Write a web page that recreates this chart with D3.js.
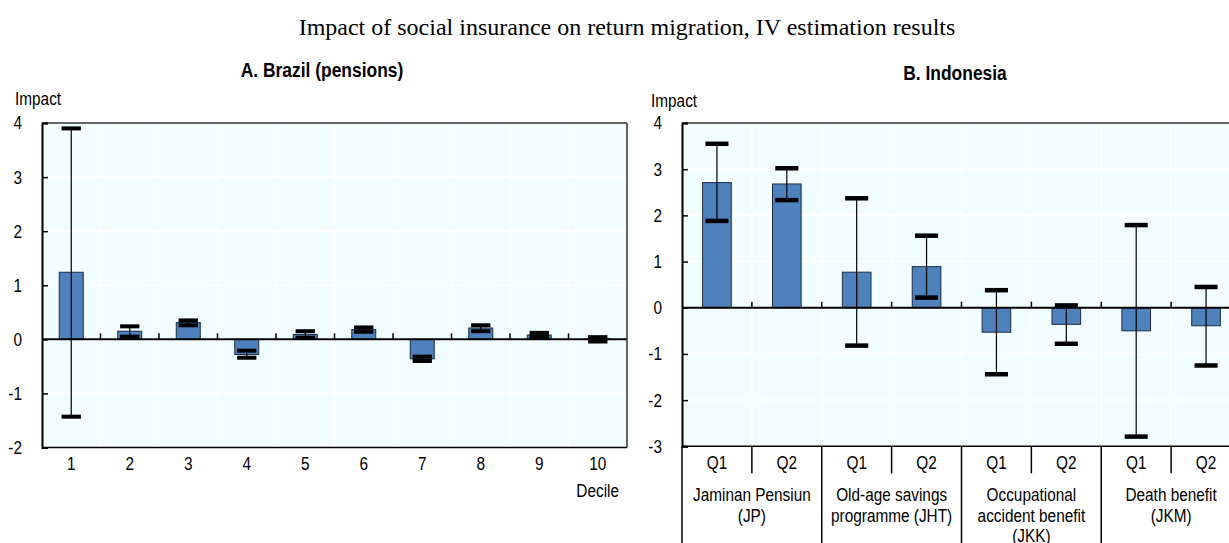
<!DOCTYPE html>
<html>
<head>
<meta charset="utf-8">
<script src="https://cdn.jsdelivr.net/npm/d3@7"></script>
<style>
    body { margin: 0; background: #fff; }
    svg text { font-family: "Liberation Sans", Arial, sans-serif; fill: #000; }
</style>
</head>
<body>
<svg id="chart" width="1229" height="543"></svg>
<script>

// Panel A: Brazil, by decile
var deciles = ["1", "2", "3", "4", "5", "6", "7", "8", "9", "10"];
var brazilImpact = [1.24, 0.15, 0.31, -0.28, 0.09, 0.18, -0.36, 0.21, 0.08, 0.01];
var brazilUpper  = [3.90, 0.24, 0.35, -0.21, 0.15, 0.22, -0.32, 0.26, 0.12, 0.04];
var brazilLower  = [-1.43, 0.05, 0.26, -0.34, 0.03, 0.14, -0.40, 0.15, 0.05, -0.04];
var brazilTicks  = [-2, -1, 0, 1, 2, 3, 4];

// Panel B: Indonesia, by programme and quintile
var quintiles = ["Q1", "Q2", "Q1", "Q2", "Q1", "Q2", "Q1", "Q2"];
var programmes = [
    ["Jaminan Pensiun", "(JP)"],
    ["Old-age savings", "programme (JHT)"],
    ["Occupational", "accident benefit", "(JKK)"],
    ["Death benefit", "(JKM)"]
];
var idnImpact = [2.71, 2.68, 0.77, 0.89, -0.53, -0.36, -0.50, -0.39];
var idnUpper  = [3.55, 3.02, 2.37, 1.56, 0.38, 0.05, 1.79, 0.45];
var idnLower  = [1.88, 2.33, -0.82, 0.22, -1.44, -0.78, -2.79, -1.25];
var idnTicks  = [-3, -2, -1, 0, 1, 2, 3, 4];

var draw = {

    svg: d3.select("#chart"),
    fs: "18.5px",
    narrow: 0.83,   // no Arial Narrow installed, so squeeze Liberation Sans

    index: function () {
        draw.svg.append("text")
            .attr("x", 627).attr("y", 35)
            .attr("text-anchor", "middle")
            .style("font-family", "'Liberation Serif', 'Times New Roman', serif")
            .style("font-size", "24px")
            .text("Impact of social insurance on return migration, IV estimation results");

        draw.panel({
            title: "A. Brazil (pensions)", titleX: 322, titleY: 77,
            left: 42, right: 627, top: 123, bottom: 447.5,
            domain: [-2, 4], ticks: brazilTicks,
            cats: deciles, values: brazilImpact, upper: brazilUpper, lower: brazilLower,
            capThick: 4, impactX: 15, impactY: 105
        });
        draw.label(draw.svg, 619, 497, "Decile", "end");

        var p = draw.panel({
            title: "B. Indonesia", titleX: 955, titleY: 80,
            left: 682, right: 1241, top: 123, bottom: 446.3,
            domain: [-3, 4], ticks: idnTicks,
            cats: d3.range(quintiles.length).map(String), labels: quintiles,
            values: idnImpact, upper: idnUpper, lower: idnLower,
            capThick: 4.5, impactX: 651, impactY: 107
        });
        draw.groups(p);
    },

    label: function (g, x, y, t, anchor) {
        return g.append("text")
            .attr("transform", "translate(" + x + "," + y + ") scale(" + draw.narrow + ",1)")
            .attr("text-anchor", anchor || "start")
            .style("font-size", draw.fs)
            .text(t);
    },

    panel: function (c) {
        var g = draw.svg.append("g");
        var x = d3.scaleBand().domain(c.cats).range([c.left, c.right]);
        var y = d3.scaleLinear().domain(c.domain).range([c.bottom, c.top]);
        var bw = x.bandwidth();

        g.append("rect")
            .attr("x", c.left).attr("y", c.top)
            .attr("width", c.right - c.left).attr("height", c.bottom - c.top)
            .attr("fill", "#f1fdff");

        // white grid
        g.selectAll(".hgrid").data(c.ticks).enter().append("line")
            .attr("x1", c.left).attr("x2", c.right)
            .attr("y1", function (d) { return y(d); })
            .attr("y2", function (d) { return y(d); })
            .attr("stroke", "#fff").attr("stroke-width", 1.5);
        g.selectAll(".vgrid").data(c.cats.slice(1)).enter().append("line")
            .attr("x1", function (d) { return x(d); })
            .attr("x2", function (d) { return x(d); })
            .attr("y1", c.top).attr("y2", c.bottom)
            .attr("stroke", "#fff").attr("stroke-width", 1.5);

        // bars
        g.selectAll(".bar").data(c.values).enter().append("rect")
            .attr("x", function (d, i) { return x(c.cats[i]) + bw * 0.295; })
            .attr("width", bw * 0.41)
            .attr("y", function (d) { return y(Math.max(0, d)); })
            .attr("height", function (d) { return Math.abs(y(d) - y(0)); })
            .attr("fill", "#4f81bd")
            .attr("stroke", "#1c2e45").attr("stroke-width", 1);

        // zero line with upward ticks at category boundaries
        g.append("line")
            .attr("x1", c.left).attr("x2", c.right)
            .attr("y1", y(0)).attr("y2", y(0))
            .attr("stroke", "#000").attr("stroke-width", 2);
        g.selectAll(".ztick").data(c.cats.slice(1)).enter().append("line")
            .attr("x1", function (d) { return x(d); })
            .attr("x2", function (d) { return x(d); })
            .attr("y1", y(0)).attr("y2", y(0) - 6)
            .attr("stroke", "#000").attr("stroke-width", 1.5);

        // error bars
        var err = g.selectAll(".err").data(c.values).enter().append("g");
        err.append("line")
            .attr("x1", function (d, i) { return x(c.cats[i]) + bw / 2; })
            .attr("x2", function (d, i) { return x(c.cats[i]) + bw / 2; })
            .attr("y1", function (d, i) { return y(c.upper[i]); })
            .attr("y2", function (d, i) { return y(c.lower[i]); })
            .attr("stroke", "#000").attr("stroke-width", 1.2);
        [c.upper, c.lower].forEach(function (arr) {
            err.append("rect")
                .attr("x", function (d, i) { return x(c.cats[i]) + bw / 2 - bw * 0.165; })
                .attr("width", bw * 0.33)
                .attr("y", function (d, i) { return y(arr[i]) - c.capThick / 2; })
                .attr("height", c.capThick)
                .attr("fill", "#000");
        });

        // frame
        g.append("line").attr("x1", c.left).attr("x2", c.right)
            .attr("y1", c.top).attr("y2", c.top)
            .attr("stroke", "#333").attr("stroke-width", 1.5);
        g.append("line").attr("x1", c.right).attr("x2", c.right)
            .attr("y1", c.top).attr("y2", c.bottom)
            .attr("stroke", "#333").attr("stroke-width", 1.5);
        g.append("line").attr("x1", c.left).attr("x2", c.right)
            .attr("y1", c.bottom).attr("y2", c.bottom)
            .attr("stroke", "#000").attr("stroke-width", 1.5);

        // y axis
        var yAxis = g.append("g")
            .attr("transform", "translate(" + c.left + ",0)")
            .call(d3.axisLeft(y).tickValues(c.ticks).tickSize(-6).tickPadding(20)
                .tickFormat(function (d) { return String(d); }));
        yAxis.select(".domain").attr("stroke", "#000").attr("stroke-width", 2);
        yAxis.selectAll(".tick line").attr("stroke", "#000").attr("stroke-width", 1.5);
        yAxis.selectAll("text")
            .attr("x", -20 / draw.narrow)
            .attr("transform", "scale(" + draw.narrow + ",1)")
            .style("font-size", draw.fs).attr("fill", "#000")
            .style("font-family", null);

        // x labels
        c.cats.forEach(function (d, i) {
            draw.label(g, x(d) + bw / 2, c.bottom + 22.5, c.labels ? c.labels[i] : d, "middle");
        });

        draw.label(g, c.impactX, c.impactY, "Impact");

        draw.label(g, c.titleX, c.titleY, c.title, "middle")
            .style("font-size", "21px").style("font-weight", "bold");

        return {x: x, c: c, bw: bw};
    },

    groups: function (p) {
        var x = p.x, c = p.c, bw = p.bw;
        var g = draw.svg.append("g");
        // short separators between quintiles, long ones between programmes
        c.cats.forEach(function (d, i) {
            var long = i % 2 === 0;
            g.append("line")
                .attr("x1", x(d)).attr("x2", x(d))
                .attr("y1", c.bottom).attr("y2", long ? 543 : c.bottom + 27)
                .attr("stroke", "#000").attr("stroke-width", 1.5);
        });
        programmes.forEach(function (lines, k) {
            var cx = x(c.cats[k * 2]) + bw;
            lines.forEach(function (t, j) {
                draw.label(g, cx, 501 + j * 20.5, t, "middle");
            });
        });
    }
};

draw.index();
</script>
</body>
</html>
